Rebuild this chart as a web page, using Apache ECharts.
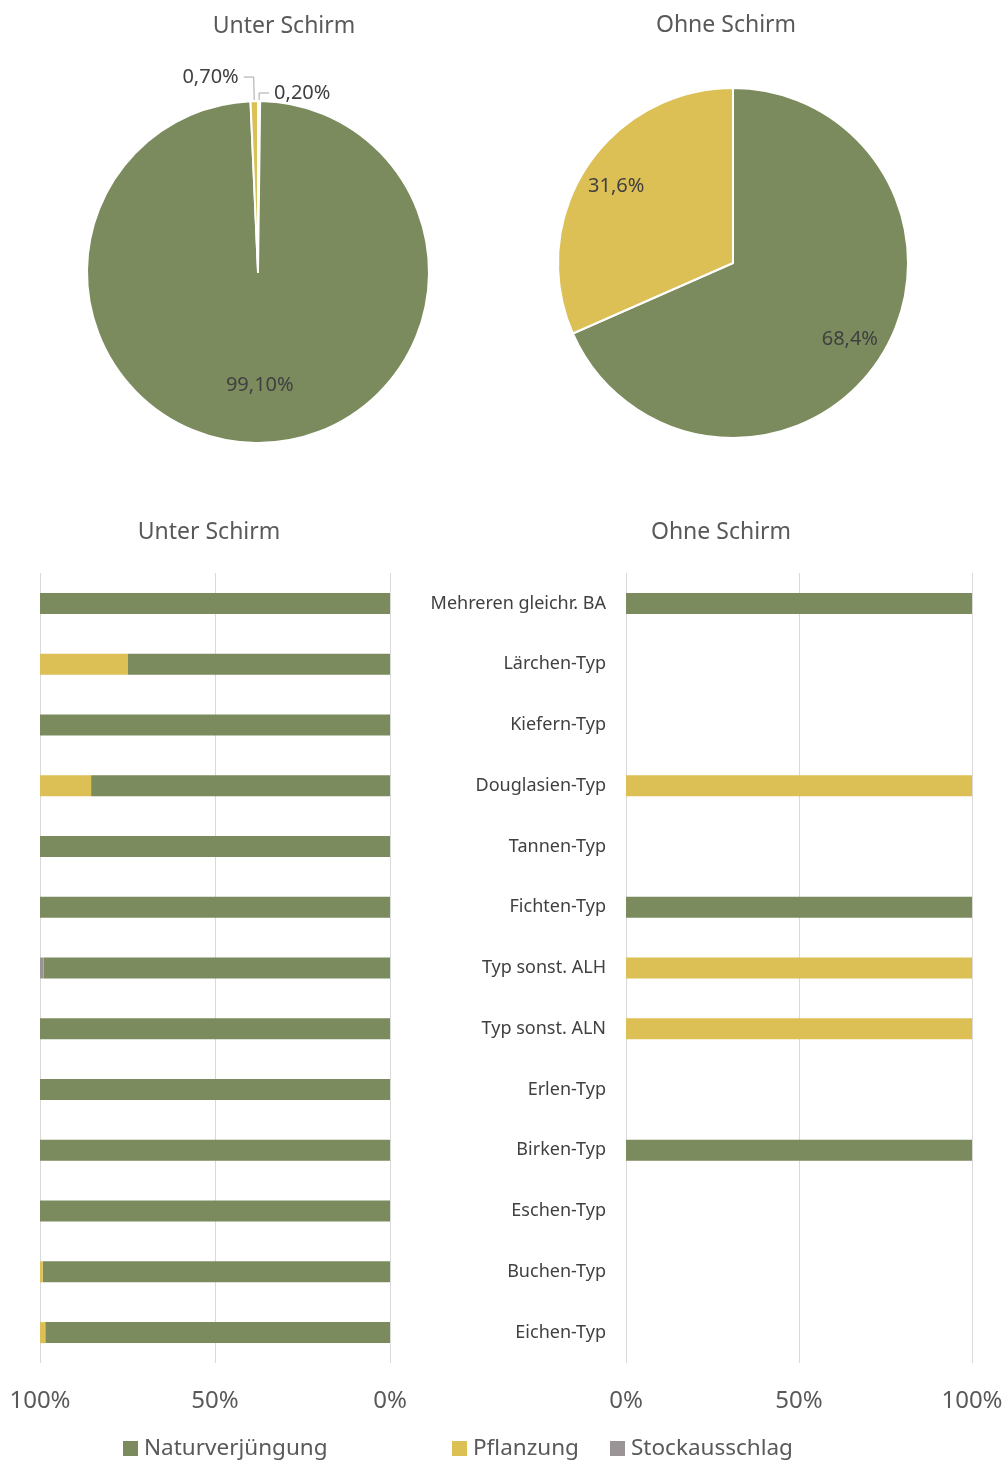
<!DOCTYPE html>
<html>
<head>
<meta charset="utf-8">
<script src="https://cdn.jsdelivr.net/npm/echarts@6/dist/echarts.min.js"></script>
<style>
  html, body { margin: 0; padding: 0; background: #fff; }
  #chart { width: 1006px; height: 1463px; }
</style>
</head>
<body>
<div id="chart"></div>
<script>
// Kategorien (von oben nach unten)
const categories = [
  'Mehreren gleichr. BA', 'Lärchen-Typ', 'Kiefern-Typ', 'Douglasien-Typ',
  'Tannen-Typ', 'Fichten-Typ', 'Typ sonst. ALH', 'Typ sonst. ALN',
  'Erlen-Typ', 'Birken-Typ', 'Eschen-Typ', 'Buchen-Typ', 'Eichen-Typ'
];
const seriesNames = ['Naturverjüngung', 'Pflanzung', 'Stockausschlag'];

// Unter Schirm (Balken, %)
const naturUnter = [100, 75, 100, 85.4, 100, 100, 99, 100, 100, 100, 100, 99.2, 98.5];
const pflanzUnter = [0, 25, 0, 14.6, 0, 0, 0, 0, 0, 0, 0, 0.8, 1.5];
const stockUnter = [0, 0, 0, 0, 0, 0, 1, 0, 0, 0, 0, 0, 0];

// Ohne Schirm (Balken, %)
const naturOhne = [100, 0, 0, 0, 0, 100, 0, 0, 0, 100, 0, 0, 0];
const pflanzOhne = [0, 0, 0, 100, 0, 0, 100, 100, 0, 0, 0, 0, 0];
const stockOhne = [0, 0, 0, 0, 0, 0, 0, 0, 0, 0, 0, 0, 0];

// Kreisdiagramme (%)
const pieUnter = { Naturverjüngung: 99.1, Pflanzung: 0.7, Stockausschlag: 0.2 };
const pieOhne = { Naturverjüngung: 68.4, Pflanzung: 31.6 };

const xTicks = [0, 50, 100];

const colors = { Naturverjüngung: '#7b8b5d', Pflanzung: '#dcbf55', Stockausschlag: '#9b9496' };
const FONT = '"Noto Sans", "DejaVu Sans", sans-serif';
const txt = '#404040';
const sub = '#595959';

const chart = echarts.init(document.getElementById('chart'));

function fmt(dec) {
  return p => p.value.toFixed(dec).replace('.', ',') + '%';
}

function barSeries(name, data, idx, stack) {
  return {
    type: 'bar', name: name, stack: stack,
    xAxisIndex: idx, yAxisIndex: idx,
    barWidth: 21,
    itemStyle: { color: colors[name] },
    data: data
  };
}

// Reihenfolge im ersten Kreis: kleine Segmente um 12 Uhr
const pie1Order = ['Stockausschlag', 'Naturverjüngung', 'Pflanzung'];
const pie1Data = pie1Order.map(n => ({
  name: n, value: pieUnter[n], itemStyle: { color: colors[n] },
  labelLine: { length: n === 'Pflanzung' ? 24 : 8, length2: 10 }
}));
const pie2Data = ['Naturverjüngung', 'Pflanzung'].map(n => ({
  name: n, value: pieOhne[n], itemStyle: { color: colors[n] }
}));

function legendFor(name, left) {
  return {
    left: left, top: 1437, padding: 0,
    icon: 'rect', itemWidth: 15, itemHeight: 15,
    textStyle: { fontFamily: FONT, fontSize: 22.5, color: sub, padding: [0, 0, 0, 1] },
    data: [{ name: name, itemStyle: { color: colors[name] } }],
    selectedMode: false
  };
}

function titleAt(text, x, y) {
  return {
    text: text, left: x, top: y, textAlign: 'center',
    textStyle: { fontFamily: FONT, fontSize: 23, fontWeight: 'normal', color: sub }
  };
}

const option = {
  animation: false,
  textStyle: { fontFamily: FONT },
  title: [
    titleAt('Unter Schirm', 279, 10),
    titleAt('Ohne Schirm', 721, 9),
    titleAt('Unter Schirm', 204, 516),
    titleAt('Ohne Schirm', 716, 516)
  ],
  legend: [
    legendFor('Naturverjüngung', 123),
    legendFor('Pflanzung', 452),
    legendFor('Stockausschlag', 610)
  ],
  grid: [
    { left: 40, width: 350, top: 573, height: 790 },
    { left: 626, width: 346, top: 573, height: 790 }
  ],
  xAxis: [0, 1].map(i => ({
    type: 'value', gridIndex: i, min: 0, max: 100, interval: 50,
    inverse: i === 0,
    axisLine: { show: false }, axisTick: { show: false },
    splitLine: { show: true, lineStyle: { color: '#d9d9d9', width: 1 } },
    axisLabel: {
      margin: 26, fontSize: 24, color: sub, fontFamily: FONT,
      formatter: v => xTicks.includes(v) ? v + '%' : ''
    }
  })),
  yAxis: [
    { type: 'category', gridIndex: 0, data: categories, inverse: true, show: false },
    {
      type: 'category', gridIndex: 1, data: categories, inverse: true,
      axisLine: { show: false }, axisTick: { show: false },
      axisLabel: { margin: 20, fontSize: 18, color: txt, fontFamily: FONT }
    }
  ],
  series: [
    barSeries(seriesNames[0], naturUnter, 0, 'unter'),
    barSeries(seriesNames[1], pflanzUnter, 0, 'unter'),
    barSeries(seriesNames[2], stockUnter, 0, 'unter'),
    barSeries(seriesNames[0], naturOhne, 1, 'ohne'),
    barSeries(seriesNames[1], pflanzOhne, 1, 'ohne'),
    barSeries(seriesNames[2], stockOhne, 1, 'ohne'),
    {
      type: 'pie', center: [258, 272], radius: 171,
      itemStyle: { borderColor: '#fff', borderWidth: 2 },
      avoidLabelOverlap: false,
      label: {
        show: true, position: 'outside', formatter: fmt(2),
        fontSize: 20, color: txt, fontFamily: FONT
      },
      labelLine: { show: true, lineStyle: { color: '#a6a6a6', width: 1 } },
      data: pie1Data.map(d => d.name === 'Naturverjüngung'
        ? Object.assign({}, d, { label: { show: false }, labelLine: { show: false } })
        : d)
    },
    {
      // nur Beschriftung innen
      type: 'pie', center: [258, 272], radius: [50, 171], silent: true,
      itemStyle: { color: 'rgba(0,0,0,0)' },
      label: { show: true, position: 'inside', formatter: fmt(2), fontSize: 20, color: txt, fontFamily: FONT },
      labelLine: { show: false },
      data: pie1Data.map(d => ({
        name: d.name, value: d.value,
        label: { show: d.name === 'Naturverjüngung' }
      }))
    },
    {
      type: 'pie', center: [733, 263], radius: 175,
      itemStyle: { borderColor: '#fff', borderWidth: 2 },
      label: { show: false },
      data: pie2Data
    },
    {
      type: 'pie', center: [733, 263], radius: [98, 175], silent: true,
      itemStyle: { color: 'rgba(0,0,0,0)' },
      label: { show: true, position: 'inside', formatter: fmt(1), fontSize: 20, color: txt, fontFamily: FONT },
      labelLine: { show: false },
      data: pie2Data.map(d => ({ name: d.name, value: d.value }))
    }
  ]
};

chart.setOption(option);
</script>
</body>
</html>
